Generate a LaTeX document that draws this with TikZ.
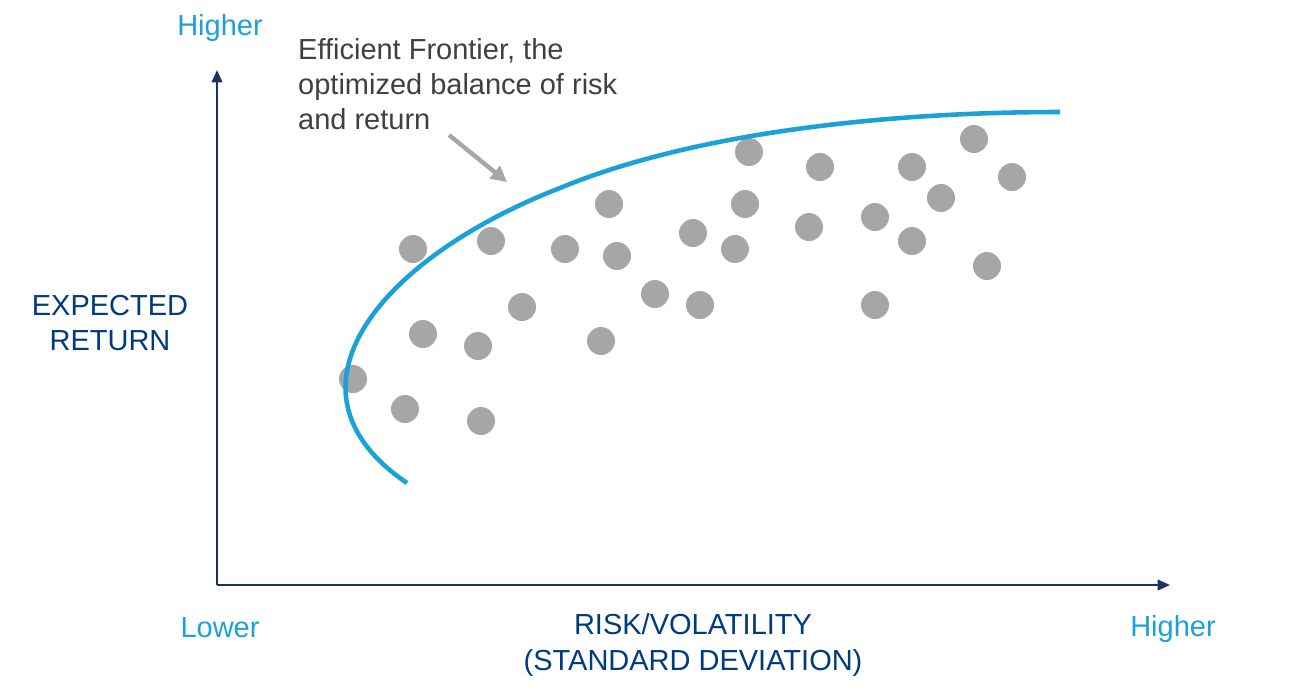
\documentclass[tikz,border=0pt]{standalone}
\usepackage{fontspec}
\setmainfont{Liberation Sans}
\usetikzlibrary{arrows.meta}
\definecolor{navy}{HTML}{1F2F5F}
\definecolor{darkblue}{HTML}{003A80}
\definecolor{skyblue}{HTML}{1BA1D8}
\definecolor{dotgray}{HTML}{A6A6A6}
\definecolor{textgray}{HTML}{404040}

\begin{document}
\begin{tikzpicture}[x=0.02cm, y=-0.02cm,
    axis/.style={draw=navy, line width=1.2pt, -{Triangle[length=7pt,width=6pt]}},
    endlabel/.style={text=skyblue, font=\fontsize{16.5}{20}\selectfont},
    axislabel/.style={text=darkblue, align=center, font=\fontsize{16.5}{20}\selectfont},
    asset/.style={circle, fill=dotgray, minimum size=0.56cm, inner sep=0pt}]
    \useasboundingbox (0,0) rectangle (1299,698);

    % Axes
    \coordinate (origin) at (217,585);
    \coordinate (ytop) at (217,70);
    \coordinate (xend) at (1170,585);
    \draw[axis] (origin) -- (ytop);
    \draw[axis] (origin) -- (xend);

    % Axis labels
    \node[endlabel] (yhigh) at (220,28) {Higher};
    \node[endlabel] (xlow) at (220,628) {Lower};
    \node[endlabel] (xhigh) at (1173,629) {Higher};
    \node[axislabel] (ylabel) at (110,323) {EXPECTED\\RETURN};
    \node[axislabel] (xlabel) at (693,645) {RISK/VOLATILITY\\(STANDARD DEVIATION)};

    % Portfolios
    \foreach \px/\py [count=\i] in {353/379, 405/409, 481/421, 423/334, 478/346, 522/307,
        413/249, 491/241, 565/249, 609/204, 617/256, 601/341, 655/294, 700/305,
        693/233, 735/249, 745/204, 749/152, 820/167, 809/227, 875/217, 875/305,
        912/241, 912/167, 941/198, 974/139, 1012/177, 987/266}
        \node[asset] (p\i) at (\px,\py) {};

    % Frontier
    \coordinate (fstart) at (407,483);
    \coordinate (fmid) at (560,188);
    \coordinate (fend) at (1060,112);
    \draw[skyblue, line width=2.6pt] (fstart) .. controls (270,390) and (380,258) .. (fmid)
        .. controls (700,130) and (900,112) .. (fend);

    % Annotation
    \node[text=textgray, align=left, anchor=north west, font=\fontsize{16.5}{20}\selectfont]
        (note) at (292,32) {Efficient Frontier, the\\optimized balance of risk\\and return};
    \coordinate (ptail) at (449,135);
    \coordinate (phead) at (507,182);
    \draw[dotgray, line width=2.5pt, -{Triangle[length=9pt,width=9pt]}] (ptail) -- (phead);
\end{tikzpicture}
\end{document}
